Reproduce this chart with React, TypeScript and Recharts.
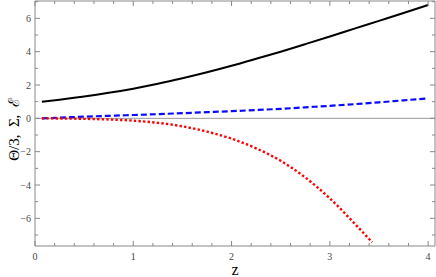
import React from "react";
import { LineChart, Line, XAxis, YAxis, ReferenceLine } from "recharts";

const zGrid = [0.07, 0.25, 0.5, 0.75, 1, 1.25, 1.5, 1.75, 2, 2.25, 2.5, 2.75, 3, 3.25, 3.5, 3.75, 4];
const thetaVals = [1.0, 1.12, 1.31, 1.53, 1.78, 2.07, 2.4, 2.76, 3.15, 3.57, 4.0, 4.45, 4.91, 5.38, 5.85, 6.32, 6.8];
const sigmaVals = [0, 0.04, 0.1, 0.15, 0.2, 0.25, 0.31, 0.37, 0.43, 0.5, 0.57, 0.66, 0.75, 0.85, 0.96, 1.08, 1.2];
const zRed = [0.07, 0.25, 0.5, 0.75, 1, 1.25, 1.5, 1.75, 2, 2.25, 2.5, 2.75, 3, 3.25, 3.43];
const epsVals = [0, -0.01, -0.03, -0.07, -0.14, -0.27, -0.48, -0.8, -1.22, -1.8, -2.55, -3.55, -4.8, -6.3, -7.44];

const xTicks = [0, 0.2, 0.4, 0.6, 0.8, 1, 1.2, 1.4, 1.6, 1.8, 2, 2.2, 2.4, 2.6, 2.8, 3, 3.2, 3.4, 3.6, 3.8, 4];
const xLabels = [0, 1, 2, 3, 4];
const yTicks = [-7, -6, -5, -4, -3, -2, -1, 0, 1, 2, 3, 4, 5, 6, 7];
const yLabels = [-6, -4, -2, 0, 2, 4, 6];

const blackData = zGrid.map((z, i) => ({ z, v: thetaVals[i] }));
const blueData = zGrid.map((z, i) => ({ z, v: sigmaVals[i] }));
const redData = zRed.map((z, i) => ({ z, v: epsVals[i] }));

const FRAME = "#888";
const FONT = "'Liberation Serif', 'DejaVu Serif', serif";

const isMajor = (list: number[], v: number) => list.some((m) => Math.abs(m - v) < 1e-6);
const fmt = (v: number) => (v < 0 ? "\u2212" + Math.abs(v) : String(v));

const BottomTick = (p: any) => {
  const v = p.payload.value;
  const major = isMajor(xLabels, v);
  const ay = p.y - 4;
  return (
    <g>
      <line x1={p.x} x2={p.x} y1={ay} y2={ay - (major ? 5 : 3)} stroke={FRAME} />
      {major && (
        <text x={p.x} y={ay + 14} textAnchor="middle" fontSize={10} fill="#444" fontFamily={FONT}>
          {fmt(v)}
        </text>
      )}
    </g>
  );
};

const TopTick = (p: any) => {
  const v = p.payload.value;
  const major = isMajor(xLabels, v);
  return <line x1={p.x} x2={p.x} y1={p.y} y2={p.y + (major ? 5 : 3)} stroke={FRAME} />;
};

const LeftTick = (p: any) => {
  const v = p.payload.value;
  const major = isMajor(yLabels, v);
  const ax = p.x + 4;
  return (
    <g>
      <line x1={ax} x2={ax + (major ? 5 : 3)} y1={p.y} y2={p.y} stroke={FRAME} />
      {major && (
        <text x={p.x} y={p.y} dy="0.355em" textAnchor="end" fontSize={10} fill="#444" fontFamily={FONT}>
          {fmt(v)}
        </text>
      )}
    </g>
  );
};

const RightTick = (p: any) => {
  const v = p.payload.value;
  const major = isMajor(yLabels, v);
  return <line x1={p.x} x2={p.x - (major ? 5 : 3)} y1={p.y} y2={p.y} stroke={FRAME} />;
};

const YLabel = (p: any) => {
  const vb = p.viewBox || { x: 35, y: 1, width: 0, height: 245 };
  const cx = 14;
  const cy = vb.y + vb.height / 2 + 6;
  return (
    <text
      x={cx}
      y={cy}
      transform={`rotate(-90 ${cx} ${cy})`}
      textAnchor="middle"
      dominantBaseline="central"
      fontSize={15}
      fill="#000"
      fontFamily={FONT}
    >
      {"\u0398/3,\u00A0\u00A0\u03A3,\u00A0\u00A0\u2130"}
    </text>
  );
};

export default function App() {
  return (
    <div style={{ position: "absolute", left: 0, top: 0, width: 436, height: 277, background: "#fff" }}>
      <LineChart width={436} height={277} margin={{ top: 0, right: 0, left: 34, bottom: 1 }}>
        <XAxis
          xAxisId="b"
          type="number"
          dataKey="z"
          domain={[0, 4.07]}
          allowDataOverflow
          ticks={xTicks}
          interval={0}
          height={30}
          tickSize={0}
          tickMargin={4}
          tickLine={false}
          axisLine={{ stroke: FRAME }}
          tick={<BottomTick />}
          label={{ value: "z", position: "insideBottom", offset: 1, fontSize: 16, fill: "#000", fontFamily: FONT }}
        />
        <XAxis
          xAxisId="t"
          orientation="top"
          type="number"
          dataKey="z"
          domain={[0, 4.07]}
          allowDataOverflow
          ticks={xTicks}
          interval={0}
          height={1}
          tickSize={0}
          tickMargin={0}
          tickLine={false}
          axisLine={{ stroke: FRAME }}
          tick={<TopTick />}
        />
        <YAxis
          yAxisId="l"
          type="number"
          domain={[-7.66, 7.04]}
          allowDataOverflow
          ticks={yTicks}
          interval={0}
          width={1}
          tickSize={0}
          tickMargin={4}
          tickLine={false}
          axisLine={{ stroke: FRAME }}
          tick={<LeftTick />}
          label={{ content: <YLabel /> }}
        />
        <YAxis
          yAxisId="r"
          orientation="right"
          type="number"
          domain={[-7.66, 7.04]}
          allowDataOverflow
          ticks={yTicks}
          interval={0}
          width={1}
          tickSize={0}
          tickMargin={0}
          tickLine={false}
          axisLine={{ stroke: FRAME }}
          tick={<RightTick />}
        />
        <ReferenceLine xAxisId="b" yAxisId="l" y={0} stroke="#999" strokeWidth={1} />
        <Line
          xAxisId="b"
          yAxisId="l"
          data={blackData}
          dataKey="v"
          type="monotone"
          stroke="#000"
          strokeWidth={2}
          dot={false}
          isAnimationActive={false}
        />
        <Line
          xAxisId="b"
          yAxisId="l"
          data={blueData}
          dataKey="v"
          type="monotone"
          stroke="#0a0aff"
          strokeWidth={2.2}
          strokeDasharray="6 3"
          dot={false}
          isAnimationActive={false}
        />
        <Line
          xAxisId="b"
          yAxisId="l"
          data={redData}
          dataKey="v"
          type="monotone"
          stroke="#ff0000"
          strokeWidth={2.4}
          strokeDasharray="2.4 2.2"
          dot={false}
          isAnimationActive={false}
        />
      </LineChart>
    </div>
  );
}
